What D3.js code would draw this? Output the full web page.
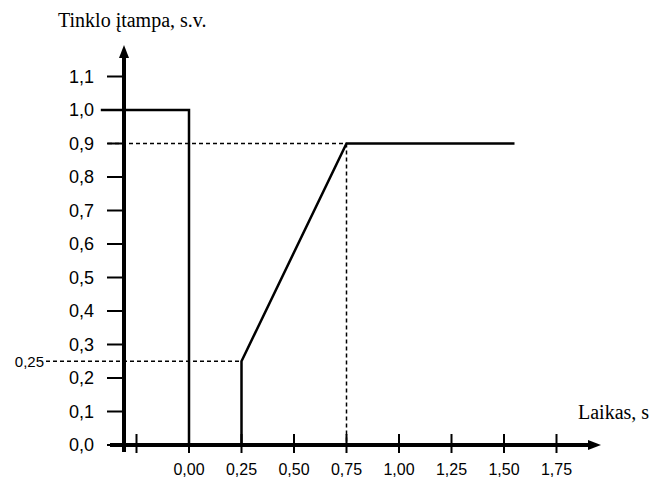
<!DOCTYPE html>
<html>
<head>
<meta charset="utf-8">
<script src="https://cdn.jsdelivr.net/npm/d3@7"></script>
<style>
  body { margin: 0; background: #fff; }
  svg { display: block; }
</style>
</head>
<body>
<div id="chart"></div>
<script>
// data
var voltTime  = [-0.42, 0.00, 0.00, 0.25, 0.25, 0.75, 1.55];
var voltValue = [ 1.00, 1.00, 0.00, 0.00, 0.25, 0.90, 0.90];
var yTicks  = [0.0, 0.1, 0.2, 0.3, 0.4, 0.5, 0.6, 0.7, 0.8, 0.9, 1.0, 1.1];
var xTicks  = [-0.25, 0, 0.25, 0.5, 0.75, 1.0, 1.25, 1.5, 1.75];
var xLabels = ["", "0,00", "0,25", "0,50", "0,75", "1,00", "1,25", "1,50", "1,75"];

var width = 652, height = 478;

var svg = d3.select("#chart")
  .append("svg")
    .attr("width", width)
    .attr("height", height);

var x = d3.scaleLinear().domain([0, 1]).range([189, 399]);
var y = d3.scaleLinear().domain([0, 1]).range([445, 110]);

var fmt = function(v) { return d3.format(".1f")(v).replace(".", ","); };

// y ticks + labels
svg.selectAll(".ytick")
  .data(yTicks)
  .enter().append("line")
    .attr("x1", 107).attr("x2", 125)
    .attr("y1", function(d) { return y(d); })
    .attr("y2", function(d) { return y(d); })
    .attr("stroke", "#000")
    .attr("stroke-width", 2);

svg.selectAll(".ylab")
  .data(yTicks)
  .enter().append("text")
    .attr("x", 94)
    .attr("y", function(d) { return y(d); })
    .attr("dy", "0.36em")
    .attr("text-anchor", "end")
    .style("font-family", "Liberation Sans, Arial, sans-serif")
    .style("font-size", "18px")
    .text(fmt);

// x ticks + labels
svg.selectAll(".xtick")
  .data(xTicks)
  .enter().append("line")
    .attr("x1", function(d) { return x(d); })
    .attr("x2", function(d) { return x(d); })
    .attr("y1", y(0) - 11).attr("y2", y(0) + 8)
    .attr("stroke", "#000")
    .attr("stroke-width", 2);

svg.selectAll(".xlab")
  .data(xTicks)
  .enter().append("text")
    .attr("x", function(d) { return x(d); })
    .attr("y", 469)
    .attr("dy", "0.36em")
    .attr("text-anchor", "middle")
    .style("font-family", "Liberation Sans, Arial, sans-serif")
    .style("font-size", "16px")
    .text(function(d, i) { return xLabels[i]; });

// dashed helper lines
var dash = svg.append("g")
  .attr("stroke", "#000")
  .attr("stroke-width", 1.5)
  .attr("stroke-dasharray", "4,3")
  .attr("fill", "none");

dash.append("line")
  .attr("x1", 108).attr("x2", x(0.75))
  .attr("y1", y(0.9)).attr("y2", y(0.9));
dash.append("line")
  .attr("x1", x(0.75)).attr("x2", x(0.75))
  .attr("y1", y(0.9)).attr("y2", y(0));
dash.append("line")
  .attr("x1", 46).attr("x2", x(0.25))
  .attr("y1", y(0.25)).attr("y2", y(0.25));

svg.append("text")
  .attr("x", 44)
  .attr("y", y(0.25))
  .attr("dy", "0.36em")
  .attr("text-anchor", "end")
  .style("font-family", "Liberation Sans, Arial, sans-serif")
  .style("font-size", "15px")
  .text("0,25");

// axes
svg.append("line")
  .attr("x1", 124).attr("x2", 124)
  .attr("y1", 54).attr("y2", 452)
  .attr("stroke", "#000")
  .attr("stroke-width", 4);
svg.append("path")
  .attr("d", "M124,45 L119,58 L129,58 Z")
  .attr("fill", "#000");

svg.append("line")
  .attr("x1", 110).attr("x2", 594)
  .attr("y1", y(0)).attr("y2", y(0))
  .attr("stroke", "#000")
  .attr("stroke-width", 4);
svg.append("path")
  .attr("d", "M601," + y(0) + " L588," + (y(0) - 5) + " L588," + (y(0) + 5) + " Z")
  .attr("fill", "#000");

// voltage line
var line = d3.line()
  .x(function(d) { return x(d[0]); })
  .y(function(d) { return y(d[1]); });

svg.append("path")
  .datum(d3.zip(voltTime, voltValue))
  .attr("d", line)
  .attr("fill", "none")
  .attr("stroke", "#000")
  .attr("stroke-width", 2.5);

// axis titles
svg.append("text")
  .attr("x", 58)
  .attr("y", 27)
  .style("font-family", "Liberation Serif, Times New Roman, serif")
  .style("font-size", "20px")
  .text("Tinklo įtampa, s.v.");

svg.append("text")
  .attr("x", 578)
  .attr("y", 419)
  .style("font-family", "Liberation Serif, Times New Roman, serif")
  .style("font-size", "20px")
  .text("Laikas, s");
</script>
</body>
</html>
